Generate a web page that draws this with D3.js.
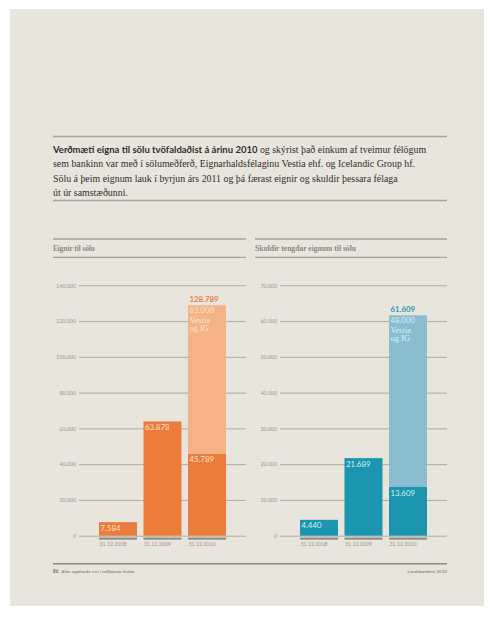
<!DOCTYPE html>
<html><head><meta charset="utf-8">
<script src="https://cdn.jsdelivr.net/npm/d3@7"></script>
<style>
html,body{margin:0;padding:0;background:#fff;}
svg{display:block;}
</style></head>
<body>
<svg id="c" width="500" height="617"></svg>
<script>
const categories = ["31.12.2008", "31.12.2009", "31.12.2010"];
const assetsBase = [7584, 63878, 45789];
const assetsVestia = [0, 0, 83000];
const liabBase = [4440, 21689, 13609];
const liabVestia = [0, 0, 48000];
const assetTicks = [0, 20000, 40000, 60000, 80000, 100000, 120000, 140000];
const liabTicks = [0, 10000, 20000, 30000, 40000, 50000, 60000, 70000];
const vestiaLabel = ["Vestia", "og IG"];
const titleLeft = "Eignir til sölu";
const titleRight = "Skuldir tengdar eignum til sölu";
const introBold = "Verðmæti eigna til sölu tvöfaldaðist á árinu 2010";
const introLines = [
  " og skýrist það einkum af tveimur félögum",
  "sem bankinn var með í sölumeðferð, Eignarhaldsfélaginu Vestia ehf. og Icelandic Group hf.",
  "Sölu á þeim eignum lauk í byrjun árs 2011 og þá færast eignir og skuldir þessara félaga",
  "út úr samstæðunni."
];
const footerLeftNum = "86";
const footerLeft = "Allar upphæðir eru í milljónum króna";
const footerRight = "Landsbankinn 2010";

const loc = d3.formatLocale({decimal: ",", thousands: ".", grouping: [3], currency: ["", " kr."]});
const fmt = loc.format(",d");

const svg = d3.select("#c");
const BG = "#e8e6dc";
svg.append("rect").attr("x", 10).attr("y", 9).attr("width", 474).attr("height", 597).attr("fill", BG);

const SERIF = "'Liberation Serif', 'DejaVu Serif', serif";
const SANS = "Lato, 'Open Sans', sans-serif";

// intro block
svg.append("line").attr("x1", 53).attr("x2", 447).attr("y1", 136.5).attr("y2", 136.5)
  .attr("stroke", "#a5a397").attr("stroke-width", 1.5);
svg.append("line").attr("x1", 53).attr("x2", 447).attr("y1", 200.5).attr("y2", 200.5)
  .attr("stroke", "#a5a397").attr("stroke-width", 1.5);
const intro = svg.append("text").attr("x", 53).attr("y", 153).attr("fill", "#2e2d2a")
  .style("font-family", SERIF).style("font-size", "9.9px");
intro.append("tspan").text(introBold).style("font-family", SANS).style("font-weight", "bold").style("font-size", "9.5px");
intro.append("tspan").text(introLines[0]);
introLines.slice(1).forEach((l, i) => {
  svg.append("text").attr("x", 53).attr("y", 167 + i * 14.5).attr("fill", "#2e2d2a")
    .style("font-family", SERIF).style("font-size", "9.9px").text(l);
});

// footer
svg.append("line").attr("x1", 53).attr("x2", 447).attr("y1", 563.8).attr("y2", 563.8)
  .attr("stroke", "#8a887d").attr("stroke-width", 1.6);
const ft = svg.append("text").attr("x", 53).attr("y", 572.8).attr("fill", "#6e6c64")
  .style("font-family", SANS).style("font-size", "4.6px");
ft.append("tspan").text(footerLeftNum).style("font-weight", "bold");
ft.append("tspan").attr("dx", 3).text(footerLeft);
svg.append("text").attr("x", 447).attr("y", 572.8).attr("text-anchor", "end").attr("fill", "#6e6c64")
  .style("font-family", SANS).style("font-size", "4.6px").text(footerRight);

function panel(opt) {
  const g = svg.append("g");
  g.append("line").attr("x1", opt.titleX1).attr("x2", opt.titleX2).attr("y1", 239).attr("y2", 239)
    .attr("stroke", "#a5a397").attr("stroke-width", 1.3);
  g.append("line").attr("x1", opt.titleX1).attr("x2", opt.titleX2).attr("y1", 257.3).attr("y2", 257.3)
    .attr("stroke", "#a5a397").attr("stroke-width", 1.3);
  g.append("text").attr("x", opt.titleX1).attr("y", 250.8).attr("fill", "#8a887e")
    .style("font-family", SERIF).style("font-weight", "bold").style("font-size", opt.titleSize)
    .text(opt.title);

  const y = d3.scaleLinear().domain([0, d3.max(opt.ticks)]).range([535.7, 285.3]);
  const x = d3.scaleBand().domain(categories).range([opt.barX0, opt.barX1]).paddingInner(0.146).paddingOuter(0);

  const ax = d3.axisLeft(y).tickValues(opt.ticks).tickFormat(fmt)
    .tickSize(-(opt.gridX2 - opt.gridX1)).tickPadding(3);
  const ag = g.append("g").attr("transform", `translate(${opt.gridX1},0)`).call(ax);
  ag.select(".domain").remove();
  ag.selectAll(".tick line").attr("stroke", "#aeaca1").attr("stroke-width", 1);
  ag.selectAll(".tick text").attr("fill", "#9a988e")
    .style("font-family", SANS).style("font-size", "5.3px");

  const bars = g.append("g");
  bars.selectAll("rect.base").data(categories).join("rect").attr("class", "base")
    .attr("x", d => x(d)).attr("width", x.bandwidth())
    .attr("y", (d, i) => y(opt.base[i])).attr("height", (d, i) => y(0) - y(opt.base[i]))
    .attr("fill", opt.dark);
  bars.selectAll("rect.top").data(categories).join("rect").attr("class", "top")
    .attr("x", d => x(d)).attr("width", x.bandwidth())
    .attr("y", (d, i) => y(opt.base[i] + opt.extra[i]))
    .attr("height", (d, i) => y(opt.base[i]) - y(opt.base[i] + opt.extra[i]))
    .attr("fill", opt.light);

  bars.selectAll("rect.ul").data(categories).join("rect").attr("class", "ul")
    .attr("x", d => x(d)).attr("width", x.bandwidth())
    .attr("y", 537.6).attr("height", 2).attr("fill", "#8a887e");
  bars.selectAll("text.date").data(categories).join("text").attr("class", "date")
    .attr("x", d => x(d) + 0.5).attr("y", 545.6).attr("fill", "#9a988e")
    .style("font-family", SANS).style("font-size", "5.3px").text(d => d);

  const lab = g.append("g").style("font-family", SANS).style("font-size", "7.8px");
  lab.selectAll("text.bv").data(categories).join("text").attr("class", "bv")
    .attr("x", d => x(d) + 1.5).attr("y", (d, i) => y(opt.base[i]) + 8.6)
    .attr("fill", opt.labelIn).text((d, i) => fmt(opt.base[i]));
  categories.forEach((c, i) => {
    if (opt.extra[i] > 0) {
      const top = y(opt.base[i] + opt.extra[i]);
      lab.append("text").attr("x", x(c) + 1.5).attr("y", top - 3.5).attr("fill", opt.labelOut)
        .style("font-weight", "bold").text(fmt(opt.base[i] + opt.extra[i]));
      lab.append("text").attr("x", x(c) + 1.5).attr("y", top + 7.8).attr("fill", opt.labelIn)
        .text(fmt(opt.extra[i]));
      vestiaLabel.forEach((v, k) => {
        lab.append("text").attr("x", x(c) + 1.5).attr("y", top + 17.6 + k * 8.2).attr("fill", opt.labelIn)
          .style("font-family", SERIF).style("font-size", "8.4px").text(v);
      });
    }
  });
}

panel({
  title: titleLeft, titleSize: "7.2px", titleX1: 53, titleX2: 246, gridX1: 79, gridX2: 246,
  barX0: 99, barX1: 226, ticks: assetTicks, base: assetsBase, extra: assetsVestia,
  dark: "#ec7c3b", light: "#f5b385", labelIn: "#fde3cf", labelOut: "#e47e43"
});
panel({
  title: titleRight, titleSize: "7.6px", titleX1: 255, titleX2: 447, gridX1: 280, gridX2: 447,
  barX0: 300, barX1: 427, ticks: liabTicks, base: liabBase, extra: liabVestia,
  dark: "#1b96ae", light: "#89bdcf", labelIn: "#d8f1f3", labelOut: "#1f98ae"
});
</script>
</body></html>
